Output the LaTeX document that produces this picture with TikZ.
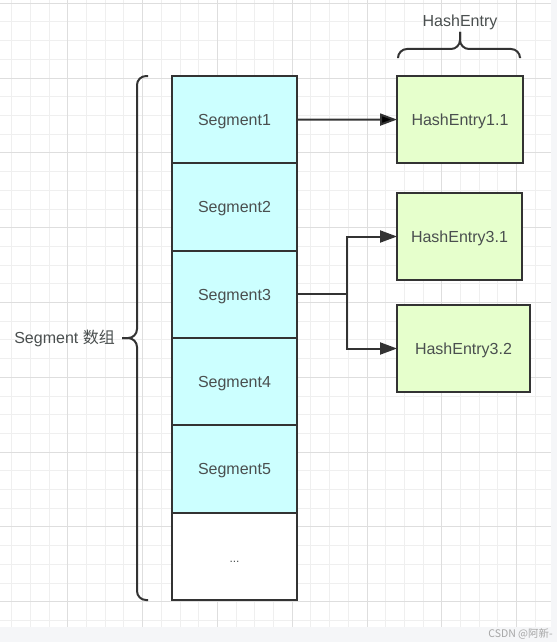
\documentclass[tikz,border=0pt]{standalone}
\usepackage{fontspec}
\setmainfont{Liberation Sans}
\newfontfamily\cjk{Noto Sans CJK SC}
\usetikzlibrary{arrows.meta}
\usetikzlibrary{positioning}
\definecolor{segcyan}{HTML}{CCFFFF}
\definecolor{entrygreen}{HTML}{E6FFCC}
\definecolor{inkgray}{HTML}{333333}
\definecolor{textgray}{HTML}{4A4F4F}
\definecolor{minorgrid}{HTML}{EFEFEF}
\definecolor{majorgrid}{HTML}{DEDEDE}
\definecolor{pagegray}{HTML}{F5F6F8}
\tikzstyle{seg}     = [draw=inkgray,line width=2pt,fill=segcyan,outer sep=0pt,minimum width=125pt,minimum height=87.33pt,text=textgray,font=\fontsize{16}{19}\selectfont,text height=11.5pt,text depth=0pt]
\tikzstyle{entry}   = [seg,fill=entrygreen,minimum width=126pt,minimum height=87pt]
\tikzstyle{link}    = [draw=inkgray,line width=2pt]
\tikzstyle{bracket} = [draw=inkgray,line width=2pt,rounded corners=9pt]
\tikzstyle{lbl}     = [text=textgray,font=\fontsize{16}{19}\selectfont,inner sep=0pt,text height=11.5pt,text depth=0pt]

\begin{document}
\begin{tikzpicture}[x=1pt,y=-1pt,>={Triangle[length=17pt,width=12pt]}]
\useasboundingbox (0,0) rectangle (557,642);

% background and grid
\fill[pagegray] (0,0) rectangle (557,642);
\fill[white] (0,0) rectangle (551,627);
\foreach \k in {0,...,28}
  \draw[minorgrid,line width=0.8pt] (11.6+18.7*\k,0) -- (11.6+18.7*\k,627);
\foreach \k in {0,...,33}
  \draw[minorgrid,line width=0.8pt] (0,3.2+18.7*\k) -- (551,3.2+18.7*\k);
\foreach \k in {3,7,...,27}
  \draw[majorgrid,line width=0.8pt] (11.6+18.7*\k,0) -- (11.6+18.7*\k,627);
\foreach \k in {0,4,...,32}
  \draw[majorgrid,line width=0.8pt] (0,3.2+18.7*\k) -- (551,3.2+18.7*\k);

% segment array
\node[seg] (S1) at (234.5,119.7) {Segment1};
\node[seg] (S2) [below=0pt of S1] {Segment2};
\node[seg] (S3) [below=0pt of S2] {Segment3};
\node[seg] (S4) [below=0pt of S3] {Segment4};
\node[seg] (S5) [below=0pt of S4] {Segment5};
\node[seg, fill=white, font=\fontsize{12}{14}\selectfont] (S6) [below=0pt of S5] {...};

% hash entries
\node[entry] (E11) at (460,119.5) {HashEntry1.1};
\node[entry, minimum width=125pt] (E31) at (459.5,236.5) {HashEntry3.1};
\node[entry, minimum width=133pt] (E32) at (463.5,348.5) {HashEntry3.2};

\path[link,->] (S1) edge (E11);
\draw[link] (S3.east) -- ++(50,0) coordinate (fork);
\draw[link,->] (fork) |- (E31);
\draw[link,->] (fork) |- (E32);

% braces
\draw[bracket] ([xshift=1pt,yshift=19pt]E11.north west) |- ([yshift=27pt]E11.north) -- ([yshift=44pt]E11.north) coordinate (tipE);
\draw[bracket] ([xshift=-3pt,yshift=19pt]E11.north east) |- ([yshift=27pt]E11.north) -- (tipE);
\node[lbl] (HE) [above=5pt of tipE] {HashEntry};

\draw[bracket] ([xshift=-24pt]S1.north west) -| ([xshift=-35pt]S3.south west) -- ([xshift=-50pt]S3.south west) coordinate (tipS);
\draw[bracket] ([xshift=-24pt]S6.south west) -| ([xshift=-35pt]S3.south west) -- (tipS);
\node[lbl] (SA) [left=7pt of tipS] {Segment {\cjk 数组}};

\node[anchor=east, text=gray!70, font=\fontsize{10.5}{12}\selectfont\cjk, inner sep=0pt] (mark) at (553,634) {CSDN @阿新-};
\end{tikzpicture}
\end{document}
